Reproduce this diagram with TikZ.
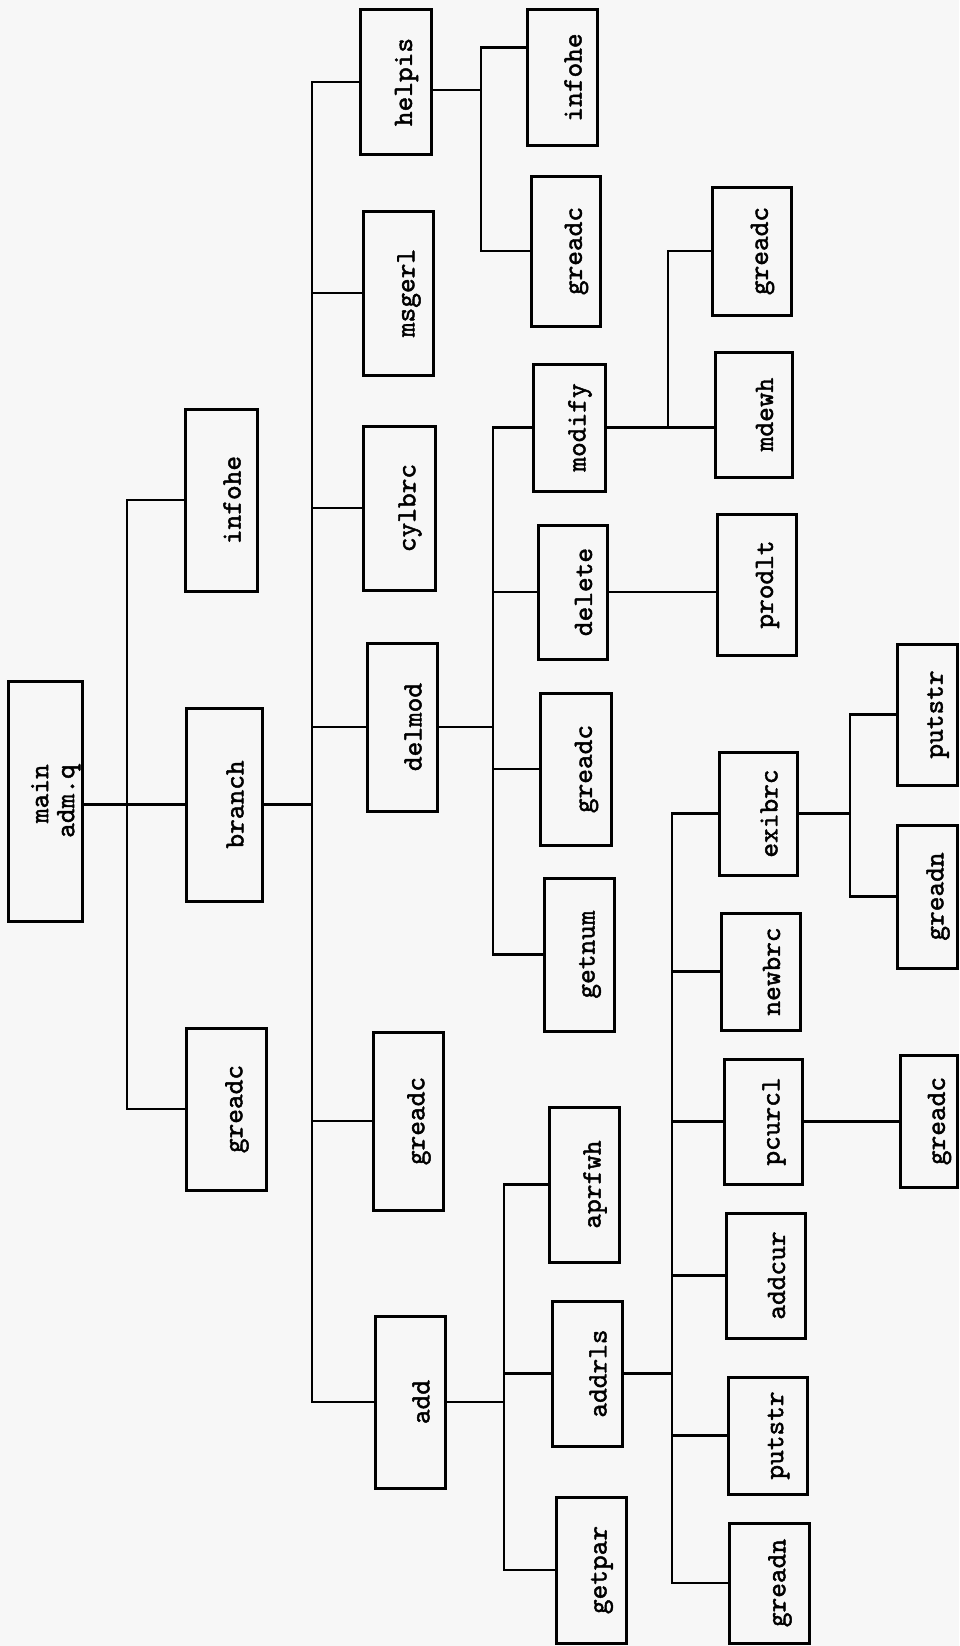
\documentclass[tikz,border=0pt]{standalone}
\usepackage{fontspec}
\setmonofont{lmmono10-regular.otf}[FakeBold=1.6]
\usepackage{graphicx}
\newcommand{\vlabel}[1]{\hspace*{22pt}\rotatebox{90}{#1}}
\tikzset{
  prog/.style 2 args={draw, line width=3pt, inner sep=0pt,
    minimum width=#1pt, minimum height=#2pt,
    font=\ttfamily\fontsize{28}{26}\selectfont},
  link/.style={line width=2.8pt}
}
\begin{document}
\begin{tikzpicture}[x=1pt,y=-1pt]
  \fill[black!3] (0,0) rectangle (959,1646);
  \useasboundingbox (0,0) rectangle (959,1646);
  % level 0 and 1
  \node[prog={68}{240}] (main) at (45,801) {\vlabel{\begin{tabular}{@{}r@{}}main\\adm.q\end{tabular}}};
  \node[prog={72}{182}] (infohe1) at (221,500) {\vlabel{infohe}};
  \node[prog={76}{193}] (branch) at (224,804.5) {\vlabel{branch}};
  \node[prog={80}{162}] (greadc1) at (226,1109) {\vlabel{greadc}};
  % level 2
  \node[prog={71}{144}] (helpis) at (395.5,82) {\vlabel{helpis}};
  \node[prog={70}{164}] (msgerl) at (398,293) {\vlabel{msgerl}};
  \node[prog={72}{164}] (cylbrc) at (399,508) {\vlabel{cylbrc}};
  \node[prog={70}{168}] (delmod) at (402,727) {\vlabel{delmod}};
  \node[prog={70}{178}] (greadc2) at (408,1121) {\vlabel{greadc}};
  \node[prog={70}{172}] (add) at (410,1402) {\vlabel{add}};
  % level 3
  \node[prog={70}{135}] (infohe2) at (562,77.5) {\vlabel{infohe}};
  \node[prog={69}{150}] (greadc3) at (565.5,251) {\vlabel{greadc}};
  \node[prog={72}{127}] (modify) at (569,427.5) {\vlabel{modify}};
  \node[prog={69}{134}] (delete) at (572.5,592) {\vlabel{delete}};
  \node[prog={71}{152}] (greadc4) at (575.5,769) {\vlabel{greadc}};
  \node[prog={70}{153}] (getnum) at (579,954.5) {\vlabel{getnum}};
  \node[prog={70}{155}] (aprfwh) at (584,1184.5) {\vlabel{aprfwh}};
  \node[prog={70}{145}] (addrls) at (587,1373.5) {\vlabel{addrls}};
  \node[prog={70}{146}] (getpar) at (591,1570) {\vlabel{getpar}};
  % level 4
  \node[prog={79}{128}] (greadc5) at (751.5,251) {\vlabel{greadc}};
  \node[prog={77}{125}] (mdewh) at (753.5,414.5) {\vlabel{mdewh}};
  \node[prog={79}{141}] (prodlt) at (756.5,584.5) {\vlabel{prodlt}};
  \node[prog={78}{123}] (exibrc) at (758,813.5) {\vlabel{exibrc}};
  \node[prog={79}{117}] (newbrc) at (760.5,971.5) {\vlabel{newbrc}};
  \node[prog={78}{125}] (pcurcl) at (763,1121.5) {\vlabel{pcurcl}};
  \node[prog={79}{125}] (addcur) at (765.5,1275.5) {\vlabel{addcur}};
  \node[prog={79}{117}] (putstr1) at (767.5,1435.5) {\vlabel{putstr}};
  \node[prog={80}{120}] (greadn1) at (769,1583) {\vlabel{greadn}};
  % level 5
  \node[prog={60}{141}] (putstr2) at (927,714.5) {\vlabel{putstr}};
  \node[prog={60}{143}] (greadn2) at (927,896.5) {\vlabel{greadn}};
  \node[prog={57}{132}] (greadc6) at (928.5,1121) {\vlabel{greadc}};
  % buses
  \coordinate (b1) at (127,0);
  \coordinate (b2) at (312,0);
  \coordinate (b3) at (481,0);
  \coordinate (b4) at (493,0);
  \coordinate (b5) at (668,0);
  \coordinate (b6) at (504,0);
  \coordinate (b7) at (672,0);
  \coordinate (b8) at (850,0);
  % main
  \draw[link] (main.east |- branch.west) -- (branch.west);
  \draw[link] (infohe1.west) -| (b1 |- branch) |- (greadc1.west);
  % branch
  \draw[link] (branch.east) -- (branch.east -| b2);
  \draw[link] (helpis.west) -| (b2 |- branch) |- (add.west);
  \draw[link] (b2 |- msgerl) -- (msgerl.west);
  \draw[link] (b2 |- cylbrc) -- (cylbrc.west);
  \draw[link] (b2 |- delmod) -- (delmod.west);
  \draw[link] (b2 |- greadc2) -- (greadc2.west);
  % helpis
  \draw[link] ([yshift=-8pt]helpis.east) -- ([yshift=-8pt]helpis.east -| b3);
  \draw[link] ([yshift=30pt]infohe2.west) -| (b3 |- helpis) |- (greadc3.west);
  % delmod
  \draw[link] (delmod.east) -- (delmod.east -| b4);
  \draw[link] (modify.west) -| (b4 |- delmod) |- (getnum.west);
  \draw[link] (b4 |- delete) -- (delete.west);
  \draw[link] (b4 |- greadc4) -- (greadc4.west);
  \draw[link] (modify.east) -- (modify.east -| mdewh.west);
  \draw[link] (greadc5.west) -| (b5 |- modify);
  \draw[link] (delete.east) -- (delete.east -| prodlt.west);
  % add
  \draw[link] (add.east) -- (add.east -| b6);
  \draw[link] (aprfwh.west) -| (b6 |- add) |- (getpar.west);
  \draw[link] (b6 |- addrls) -- (addrls.west);
  \draw[link] (addrls.east) -- (addrls.east -| b7);
  \draw[link] (exibrc.west) -| (b7 |- addrls) |- (greadn1.west);
  \draw[link] (b7 |- newbrc) -- (newbrc.west);
  \draw[link] (b7 |- pcurcl) -- (pcurcl.west);
  \draw[link] (b7 |- addcur) -- (addcur.west);
  \draw[link] (b7 |- putstr1) -- (putstr1.west);
  \draw[link] (exibrc.east) -- (exibrc.east -| b8);
  \draw[link] (putstr2.west) -| (b8 |- exibrc) |- (greadn2.west);
  \draw[link] (pcurcl.east) -- (pcurcl.east -| greadc6.west);
\end{tikzpicture}
\end{document}
